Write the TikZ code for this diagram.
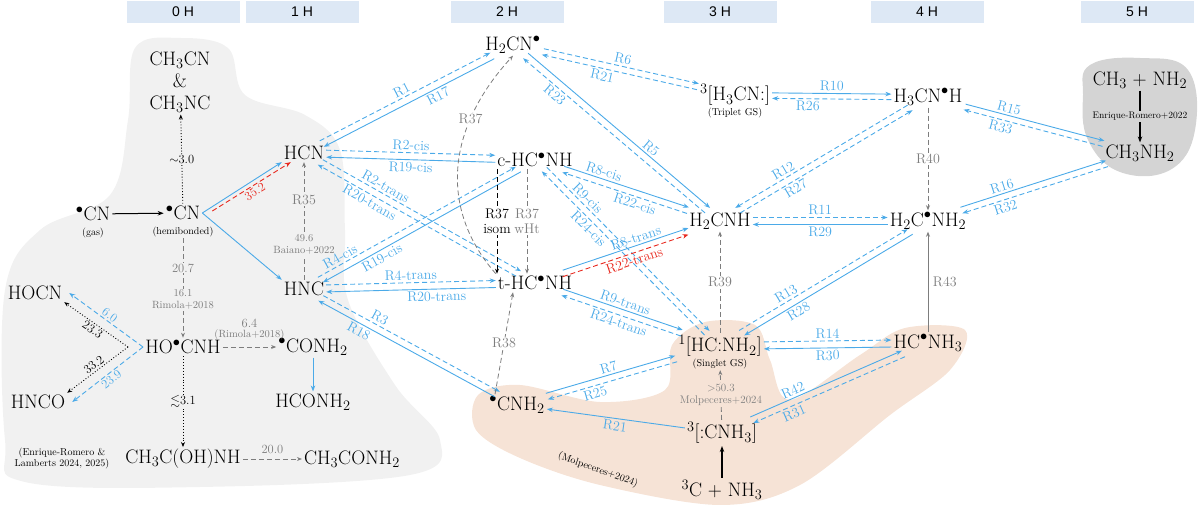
\documentclass[tikz,border=0pt]{standalone}
\usepackage{amssymb}
\usepackage{fontspec}
\newfontfamily\hdrfont{Liberation Sans}
\usetikzlibrary{arrows.meta}
\definecolor{rblue}{RGB}{75,170,232}
\definecolor{rgrey}{RGB}{125,125,125}
\definecolor{rred}{RGB}{232,40,30}
\definecolor{hdbg}{RGB}{221,232,245}
\definecolor{lblob}{RGB}{241,241,241}
\definecolor{oblob}{RGB}{246,227,214}
\definecolor{dblob}{RGB}{212,212,212}
\newcommand{\rdot}{{}^{\bullet}}
\tikzset{
  sp/.style={inner sep=2pt, font=\fontsize{19.5}{22}\selectfont},
  subcap/.style={inner sep=1pt, font=\fontsize{10}{11}\selectfont},
  hd/.style={fill=hdbg, minimum width=113pt, minimum height=22pt, font=\hdrfont\fontsize{14}{15}\selectfont},
  rl/.style={inner sep=1pt, outer sep=1.5pt, text=rblue, font=\fontsize{14}{15}\selectfont},
  gl/.style={inner sep=1.5pt, text=rgrey, font=\fontsize{14}{15}\selectfont},
  sg/.style={inner sep=1pt, text=rgrey, font=\fontsize{10.5}{12}\selectfont, align=center},
  fw/.style={draw=rblue, line width=0.9pt, -{Stealth[length=6pt,width=4.5pt]}},
  bw/.style={draw=rblue, line width=0.9pt, dash pattern=on 5pt off 3pt, -{Stealth[length=6pt,width=4.5pt]}},
  gd/.style={draw=rgrey, line width=0.8pt, dash pattern=on 5pt off 3pt, -{Stealth[length=5pt,width=4pt]}},
  kd/.style={draw=black, line width=0.9pt, dotted, -{Stealth[length=5pt,width=4pt]}},
  num/.style={inner sep=1pt, outer sep=1pt, font=\fontsize{12.5}{14}\selectfont},
}
\begin{document}
\begin{tikzpicture}[x=1pt, y=-1pt]
    \useasboundingbox (0,0) rectangle (1200,505);

    % background blobs
    \fill[lblob] plot[smooth cycle, tension=0.6] coordinates {(135,48) (180,38) (228,48) (245,95) (305,115) (340,150) (345,230) (348,300) (395,385) (440,440) (410,475) (200,487) (25,482) (5,440) (5,290) (40,230) (110,195) (128,120)};
    \fill[oblob] plot[smooth cycle, tension=0.55] coordinates {(478,395) (520,385) (600,402) (665,390) (672,345) (705,322) (755,325) (770,360) (790,400) (860,355) (905,328) (965,330) (950,370) (890,415) (800,485) (720,505) (600,485) (520,458) (476,430)};
    \fill[dblob] plot[smooth cycle, tension=0.7] coordinates {(1090,65) (1140,58) (1188,70) (1195,130) (1170,170) (1120,172) (1088,140) (1083,95)};

    % column headers
    \node[hd] (h0) at (183,12) {0 H};
    \node[hd] (h1) at (302,12) {1 H};
    \node[hd] (h2) at (507,12) {2 H};
    \node[hd] (h3) at (720,12) {3 H};
    \node[hd] (h4) at (927,12) {4 H};
    \node[hd] (h5) at (1137,12) {5 H};

    % 0H / 1H species
    \node[sp, align=center] (MeCN) at (180,82) {CH$_3$CN\\\&\\CH$_3$NC};
    \node[sp] (CNg) at (93,214) {$\rdot$CN};
    \node[subcap] (CNgc) at (93,233) {(gas)};
    \node[sp] (CNh) at (183,213) {$\rdot$CN};
    \node[subcap] (CNhc) at (183,232) {(hemibonded)};
    \node[sp] (HCN) at (304,153) {HCN};
    \node[sp] (HNC) at (304,289) {HNC};
    \node[sp] (HOCN) at (35,293) {HOCN};
    \node[sp] (HNCO) at (38,402) {HNCO};
    \node[sp] (HOCNH) at (183,347) {HO$\rdot$CNH};
    \node[sp] (CONH) at (313,347) {$\rdot$CONH$_2$};
    \node[sp] (HCONH) at (313,402) {HCONH$_2$};
    \node[sp] (MeCOH) at (183,459) {CH$_3$C(OH)NH};
    \node[sp] (MeCON) at (352,459) {CH$_3$CONH$_2$};
    \node[subcap, align=center] (ERL) at (62,458) {(Enrique-Romero \&\\Lamberts 2024, 2025)};
    \coordinate (vk) at (128,347);
    \coordinate (vb) at (143,347);

    % 2H species
    \node[sp] (H2CN) at (513,45) {H$_2$CN$\rdot$};
    \node[sp] (cHC) at (535,160) {c-HC$\rdot$NH};
    \node[sp] (tHC) at (535,283) {t-HC$\rdot$NH};
    \node[sp] (CNH2) at (517,405) {$\rdot$CNH$_2$};

    % 3H species
    \node[sp] (trip) at (735,95) {$^3$[H$_3$CN:]};
    \node[subcap] (tripc) at (735,113) {(Triplet GS)};
    \node[sp] (H2CNH) at (720,221) {H$_2$CNH};
    \node[sp] (sing) at (720,346) {$^1$[HC:NH$_2$]};
    \node[subcap] (singc) at (720,364) {(Singlet GS)};
    \node[sp] (CNH3) at (722,433) {$^3$[:CNH$_3$]};
    \node[sp] (CNH3s) at (722,490) {$^3$C + NH$_3$};
    \node[subcap, rotate=-20] (molp) at (598,470) {(Molpeceres+2024)};

    % 4H / 5H species
    \node[sp] (H3CNH) at (928,97) {H$_3$CN$\rdot$H};
    \node[sp] (H2CNH2) at (928,221) {H$_2$C$\rdot$NH$_2$};
    \node[sp] (HCNH3) at (928,343) {HC$\rdot$NH$_3$};
    \node[sp] (MeNH) at (1140,80) {CH$_3$ + NH$_2$};
    \node[sp] (MeNH2) at (1140,153) {CH$_3$NH$_2$};

    % left region
    \draw[line width=1pt, -{Stealth[length=6pt,width=4.5pt]}] (CNg) -- (CNh);
    \draw[kd] (CNh) -- node[num, fill=lblob]{$\sim$3.0} (MeCN);
    \draw[fw] (CNh.east) -- (HCN.south west);
    \draw[fw] (CNh.east) -- (HNC.north west);
    \draw[draw=rred, line width=0.9pt, dash pattern=on 5pt off 3pt, -{Stealth[length=6pt,width=4.5pt]}] ([xshift=10pt,yshift=2pt]CNh.east) -- ([xshift=9pt]HCN.south west) node[num, midway, below, sloped, text=rred]{35.2};
    \draw[gd] (HNC) -- node[pos=0.3, sg, fill=lblob]{49.6\\Baiano+2022} node[pos=0.68, gl, fill=lblob]{R35} (HCN);
    \draw[gd] (CNhc) -- node[pos=0.3, sg, fill=lblob, font=\fontsize{12.5}{14}\selectfont]{20.7} node[pos=0.62, sg, fill=lblob]{16.1\\Rimola+2018} (HOCNH);
    \draw[kd] (vk) -- (HOCN.south east) node[num, midway, below, sloped]{23.3};
    \draw[kd] (vk) -- (HNCO.north east) node[num, midway, above, sloped]{33.2};
    \draw[bw] (vb) -- ([xshift=5pt]HOCN.east) node[num, midway, above, sloped, text=rblue]{6.0};
    \draw[bw] (vb) -- ([xshift=5pt]HNCO.east) node[num, midway, below, sloped, text=rblue]{23.9};
    \draw[gd] (HOCNH) -- node[above, sg, font=\fontsize{12.5}{14}\selectfont, yshift=5pt]{6.4\\[-4pt]{\fontsize{10.5}{12}\selectfont(Rimola+2018)}} (CONH);
    \draw[fw] (CONH) -- (HCONH);
    \draw[kd] (HOCNH) -- node[num, fill=lblob]{$\lesssim$3.1} (MeCOH);
    \draw[gd] (MeCOH) -- node[above, sg, font=\fontsize{12.5}{14}\selectfont, yshift=4pt]{20.0} (MeCON);

    % 1H -> 2H
    \draw[bw, transform canvas={xshift=-2pt,yshift=3pt}] (HCN) -- (H2CN) node[rl, midway, above, sloped]{R1};
    \draw[fw, transform canvas={xshift=2pt,yshift=-3pt}] (H2CN) -- (HCN) node[rl, pos=0.35, below, sloped]{R17};
    \draw[bw, transform canvas={yshift=3.5pt}] (HCN) -- (cHC) node[rl, midway, above, sloped]{R2-cis};
    \draw[fw, transform canvas={yshift=-3.5pt}] (cHC) -- (HCN) node[rl, midway, below, sloped]{R19-cis};
    \draw[bw, transform canvas={xshift=2.5pt,yshift=2.5pt}] (HCN) -- (tHC) node[rl, pos=0.3, above, sloped]{R2-trans};
    \draw[bw, transform canvas={xshift=-2.5pt,yshift=-2.5pt}] (tHC) -- (HCN) node[rl, pos=0.72, below, sloped]{R20-trans};
    \draw[bw, transform canvas={xshift=-2.5pt,yshift=2.5pt}] (HNC) -- (cHC) node[rl, pos=0.13, above, sloped]{R4-cis};
    \draw[fw, transform canvas={xshift=2.5pt,yshift=-2.5pt}] (cHC) -- (HNC) node[rl, pos=0.72, below, sloped]{R19-cis};
    \draw[bw, transform canvas={yshift=3.5pt}] (HNC) -- (tHC) node[rl, midway, above, sloped]{R4-trans};
    \draw[fw, transform canvas={yshift=-3.5pt}] (tHC) -- (HNC) node[rl, pos=0.35, below, sloped]{R20-trans};
    \draw[bw, transform canvas={xshift=2.5pt,yshift=2.5pt}] (HNC) -- (CNH2) node[rl, pos=0.3, above, sloped]{R3};
    \draw[fw, transform canvas={xshift=-2.5pt,yshift=-2.5pt}] (CNH2) -- (HNC) node[rl, pos=0.75, below, sloped]{R18};

    % 2H internal
    \draw[gd] (tHC.north west) .. controls (440,210) and (445,130) .. (H2CN.south) node[gl, pos=0.72, fill=white]{R37};
    \draw[draw=black, line width=0.8pt, dash pattern=on 5pt off 3pt, -{Stealth[length=5pt,width=4pt]}] ([xshift=-38pt]cHC.south) -- node[fill=white, inner sep=1pt, font=\fontsize{14}{15}\selectfont, align=center]{R37\\isom} ([xshift=-38pt]tHC.north);
    \draw[gd] ([xshift=-8pt]cHC.south) -- node[gl, fill=white, align=center]{R37\\wHt} ([xshift=-8pt]tHC.north);
    \draw[gd] ([xshift=-22pt]CNH2.north) -- node[gl, fill=white]{R38} ([xshift=-22pt]tHC.south);

    % 2H -> 3H
    \draw[bw, transform canvas={xshift=1pt,yshift=3pt}] (H2CN) -- (trip) node[rl, midway, above, sloped]{R6};
    \draw[bw, transform canvas={xshift=-1pt,yshift=-3pt}] (trip) -- (H2CN) node[rl, pos=0.6, below, sloped]{R21};
    \draw[bw, transform canvas={xshift=-2.5pt,yshift=-2.5pt}] (H2CNH) -- (H2CN) node[rl, pos=0.8, below, sloped]{R23};
    \draw[fw, transform canvas={xshift=2.5pt,yshift=2.5pt}] (H2CN) -- (H2CNH) node[rl, pos=0.65, above, sloped]{R5};
    \draw[fw, transform canvas={xshift=1pt,yshift=3pt}] (cHC) -- (H2CNH) node[rl, pos=0.3, above, sloped]{R8-cis};
    \draw[bw, transform canvas={xshift=-1pt,yshift=-3pt}] (H2CNH) -- (cHC) node[rl, pos=0.4, below, sloped]{R22-cis};
    \draw[bw, transform canvas={xshift=2.5pt,yshift=2pt}] (cHC) -- (sing) node[rl, pos=0.22, above, sloped]{R9-cis};
    \draw[bw, transform canvas={xshift=-2.5pt,yshift=-2pt}] (sing) -- (cHC) node[rl, pos=0.68, below, sloped]{R24-cis};
    \draw[fw, transform canvas={yshift=3.5pt}] (tHC) -- (H2CNH) node[rl, pos=0.6, above, sloped]{R8-trans};
    \draw[draw=rred, line width=0.9pt, dash pattern=on 5pt off 3pt, -{Stealth[length=6pt,width=4.5pt]}, transform canvas={yshift=-3pt}] (tHC) -- (H2CNH) node[pos=0.55, below, sloped, inner sep=1pt, outer sep=1.5pt, text=rred, font=\fontsize{14}{15}\selectfont]{R22-trans};
    \draw[fw, transform canvas={xshift=1pt,yshift=3pt}] (tHC) -- (sing) node[rl, midway, above, sloped]{R9-trans};
    \draw[bw, transform canvas={xshift=-1pt,yshift=-3pt}] (sing) -- (tHC) node[rl, midway, below, sloped]{R24-trans};
    \draw[fw, transform canvas={xshift=-1pt,yshift=3pt}] (CNH2) -- (sing) node[rl, midway, above, sloped]{R7};
    \draw[bw, transform canvas={xshift=1pt,yshift=-3pt}] (sing) -- (CNH2) node[rl, pos=0.65, below, sloped]{R25};
    \draw[fw] (CNH3) -- (CNH2) node[rl, midway, below, sloped]{R21};

    % 3H internal
    \draw[gd] (sing) -- node[gl, fill=white]{R39} (H2CNH);
    \draw[gd] (CNH3) -- node[sg, fill=oblob, font=\fontsize{11}{12}\selectfont]{$>$50.3\\Molpeceres+2024} (singc);
    \draw[line width=1.1pt, -{Stealth[length=6pt,width=4.5pt]}] (CNH3s) -- (CNH3);

    % 3H -> 4H
    \draw[fw, transform canvas={yshift=2.5pt}] (trip) -- (H3CNH) node[rl, midway, above, sloped]{R10};
    \draw[bw, transform canvas={yshift=-3pt}] (H3CNH) -- (trip) node[rl, pos=0.7, below, sloped]{R26};
    \draw[bw, transform canvas={xshift=-2.5pt,yshift=2.5pt}] (H3CNH) -- (H2CNH) node[rl, pos=0.7, above, sloped]{R12};
    \draw[bw, transform canvas={xshift=2.5pt,yshift=-2.5pt}] (H2CNH) -- (H3CNH) node[rl, pos=0.3, below, sloped]{R27};
    \draw[bw, transform canvas={yshift=3.5pt}] (H2CNH) -- (H2CNH2) node[rl, midway, above, sloped]{R11};
    \draw[fw, transform canvas={yshift=-3.5pt}] (H2CNH2) -- (H2CNH) node[rl, midway, below, sloped]{R29};
    \draw[bw, transform canvas={xshift=-2.5pt,yshift=2.5pt}] (sing) -- (H2CNH2) node[rl, pos=0.3, above, sloped]{R13};
    \draw[fw, transform canvas={xshift=2.5pt,yshift=-2.5pt}] (H2CNH2) -- (sing) node[rl, pos=0.7, below, sloped]{R28};
    \draw[bw, transform canvas={yshift=3.5pt}] (sing) -- (HCNH3) node[rl, midway, above, sloped]{R14};
    \draw[fw, transform canvas={yshift=-3.5pt}] (HCNH3) -- (sing) node[rl, midway, below, sloped]{R30};
    \draw[fw, transform canvas={xshift=-1.5pt,yshift=3pt}] (CNH3) -- (HCNH3) node[rl, pos=0.3, above, sloped]{R42};
    \draw[bw, transform canvas={xshift=1.5pt,yshift=-3pt}] (HCNH3) -- (CNH3) node[rl, pos=0.75, below, sloped]{R31};

    % 4H internal
    \draw[gd] (H3CNH) -- node[gl, fill=white]{R40} (H2CNH2);
    \draw[draw=rgrey, line width=0.8pt, -{Stealth[length=5pt,width=4pt]}] (HCNH3) -- node[gl, right=3pt]{R43} (H2CNH2);

    % 4H -> 5H
    \draw[fw, transform canvas={xshift=1pt,yshift=2.5pt}] (H3CNH) -- (MeNH2) node[rl, pos=0.3, above, sloped]{R15};
    \draw[bw, transform canvas={xshift=-1pt,yshift=-3pt}] (MeNH2) -- (H3CNH) node[rl, pos=0.72, below, sloped]{R33};
    \draw[fw, transform canvas={xshift=-1pt,yshift=3pt}] (H2CNH2) -- (MeNH2) node[rl, pos=0.3, above, sloped]{R16};
    \draw[bw, transform canvas={xshift=1pt,yshift=-3pt}] (MeNH2) -- (H2CNH2) node[rl, pos=0.72, below, sloped]{R32};
    \draw[line width=1.1pt, -{Stealth[length=6pt,width=4.5pt]}] (MeNH) -- node[fill=dblob, inner sep=1pt, font=\fontsize{9.5}{10}\selectfont]{Enrique-Romero+2022} (MeNH2);

\end{tikzpicture}
\end{document}
